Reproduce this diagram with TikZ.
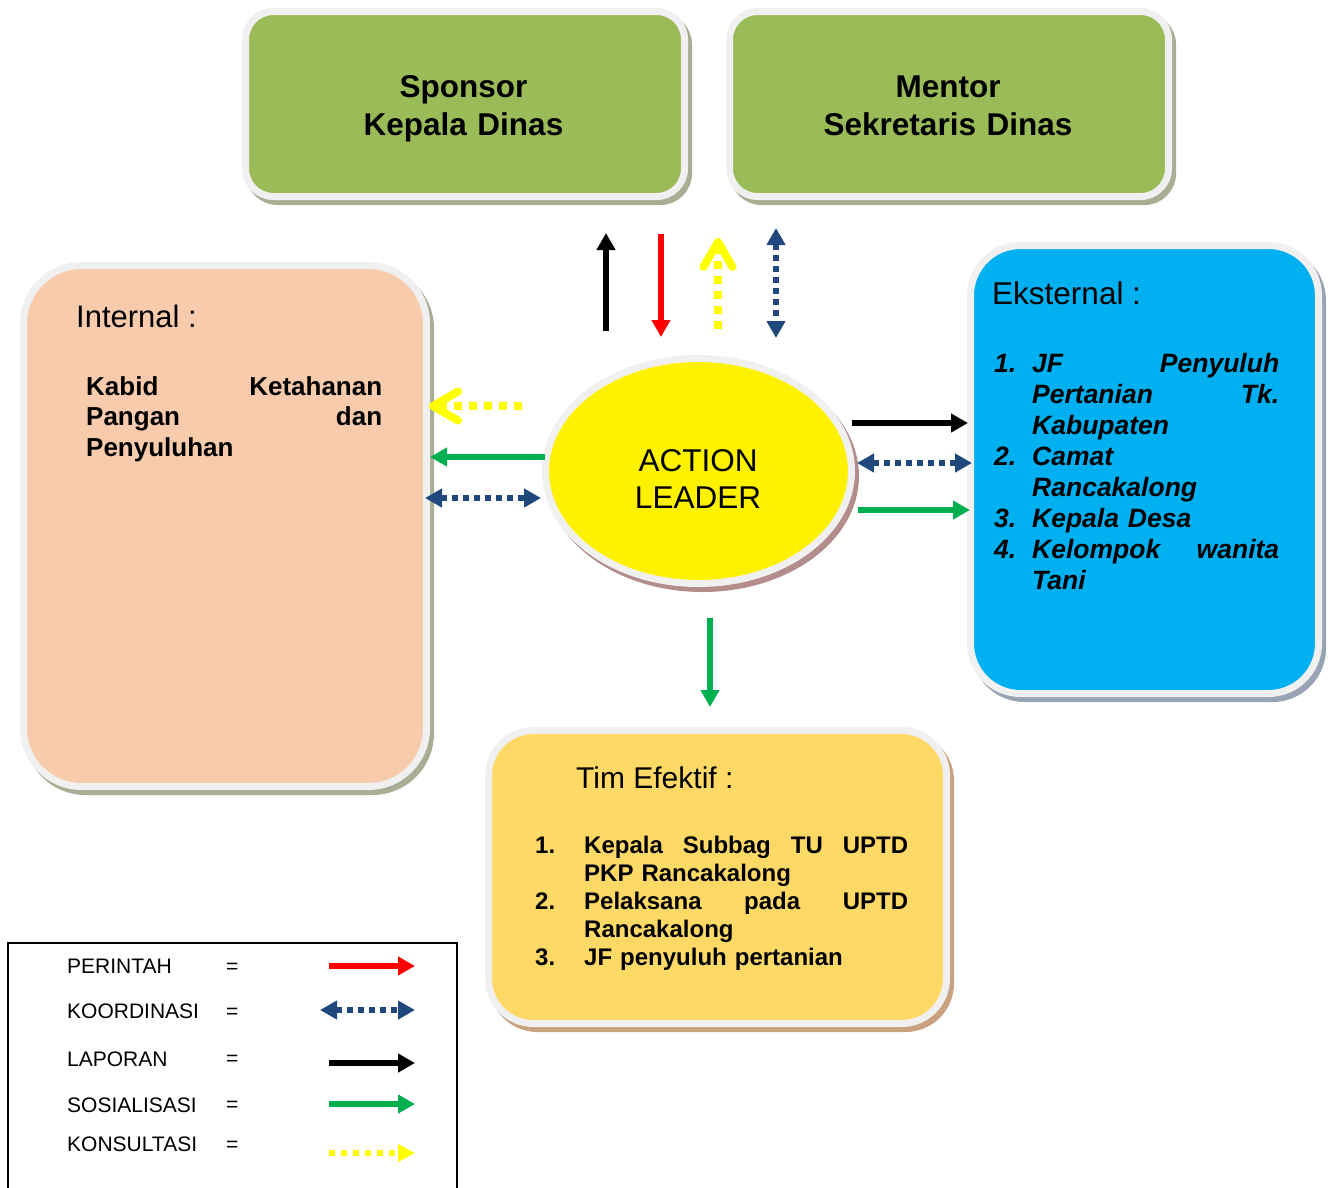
\documentclass[tikz,border=0pt]{standalone}
\usepackage{fontspec}
\setmainfont{Liberation Sans}
\usetikzlibrary{arrows.meta,shapes.geometric,shadows}
\definecolor{cGreenBox}{HTML}{9BBB59}
\definecolor{cPeach}{HTML}{F8CBAD}
\definecolor{cSky}{HTML}{00B0F0}
\definecolor{cGold}{HTML}{FFD966}
\definecolor{cRing}{HTML}{F0F0F0}
\definecolor{shGreen}{HTML}{A7AE93}
\definecolor{shBlue}{HTML}{98A4B5}
\definecolor{shRose}{HTML}{B38C8C}
\definecolor{shTan}{HTML}{C9A27F}
\definecolor{cArrRed}{HTML}{FF0000}
\definecolor{cArrBlue}{HTML}{1F497D}
\definecolor{cArrGreen}{HTML}{00B050}
\definecolor{cArrYellow}{HTML}{FFFF00}
\tikzset{
  ringbox/.style={rectangle, draw=cRing, line width=7pt, inner sep=0pt},
  shadowof/.style={drop shadow={shadow xshift=4pt, shadow yshift=-5pt, fill=#1, draw=#1, line width=7pt, opacity=1}},
  txt/.style={inner sep=0pt, text=black},
  perintah/.style={draw=cArrRed, line width=6.5pt, -{Triangle[length=17pt,width=18pt]}},
  laporan/.style={draw=black, line width=6.5pt, -{Triangle[length=17pt,width=18pt]}},
  sosial/.style={draw=cArrGreen, line width=6.5pt, -{Triangle[length=17pt,width=18pt]}},
  koord/.style={draw=cArrBlue, line width=5.5pt, dash pattern=on 6pt off 5pt, {Triangle[length=17pt,width=18pt]}-{Triangle[length=17pt,width=18pt]}},
  konsul/.style={draw=cArrYellow, line width=8pt, dash pattern=on 8pt off 7pt, -{Straight Barb[length=25pt,width=29pt,round]}},
  konsulkey/.style={draw=cArrYellow, line width=6pt, dash pattern=on 6pt off 6pt, -{Triangle[length=17pt,width=17pt]}},
  legendtxt/.style={txt, anchor=base west, font=\fontsize{21}{25}\selectfont}
}
\begin{document}
\begin{tikzpicture}[x=1pt,y=-1pt]
\useasboundingbox[fill=white] (0,0) rectangle (1332,1187);

% ---- boxes ----
\node[ringbox, fill=cGreenBox, rounded corners=28pt, minimum width=439pt, minimum height=185pt, shadowof=shGreen] (sponsor) at (465,104) {};
\node[ringbox, fill=cGreenBox, rounded corners=28pt, minimum width=439pt, minimum height=185pt, shadowof=shGreen] (mentor) at (949,104) {};
\node[ringbox, fill=cPeach, rounded corners=58pt, minimum width=403pt, minimum height=521pt, shadowof=shGreen] (internal) at (225,526) {};
\node[ringbox, fill=cSky, rounded corners=50pt, minimum width=348pt, minimum height=448pt, shadowof=shBlue] (eksternal) at (1144.5,469.5) {};
\node[ringbox, fill=cGold, rounded corners=45pt, minimum width=458pt, minimum height=293pt, shadowof=shTan] (tim) at (717.5,877) {};
\node[ellipse, draw=cRing, line width=7pt, fill=yellow, minimum width=306pt, minimum height=225pt, inner sep=0pt, shadowof=shRose] (leader) at (698.5,471) {};

% ---- texts ----
\node[txt, anchor=base, text width=420pt, align=center, font=\bfseries\fontsize{31.5}{38}\selectfont] (tSponsor) at (463.5,97) {Sponsor\\Kepala Dinas};
\node[txt, anchor=base, text width=420pt, align=center, font=\bfseries\fontsize{31.5}{38}\selectfont] (tMentor) at (948,97) {Mentor\\Sekretaris Dinas};
\node[txt, anchor=base, text width=220pt, align=center, font=\fontsize{31.5}{37}\selectfont] (tLeader) at (698,471) {ACTION\\LEADER};

\node[txt, anchor=base west, font=\fontsize{31}{36}\selectfont] (tInt) at (76,327) {Internal :};
\node[txt, anchor=base west, text width=300pt, font=\bfseries\fontsize{26}{30.5}\selectfont] (tKabid) at (86,395)
 {\hbox to 296pt{Kabid\hfill Ketahanan}\par
  \hbox to 296pt{Pangan\hfill dan}\par
  \hbox{Penyuluhan}\par};

\node[txt, anchor=base west, font=\fontsize{31.5}{36}\selectfont] (tEks) at (992,304) {Eksternal :};
\node[txt, anchor=base west, text width=300pt, font=\bfseries\itshape\fontsize{26.5}{31}\selectfont] (tEksList) at (994,372)
 {\hbox{\hbox to 38pt{1.\hfil}\hbox to 247pt{JF\hfill Penyuluh}}\par
  \hbox{\hbox to 38pt{}\hbox to 247pt{Pertanian\hfill Tk.}}\par
  \hbox{\hbox to 38pt{}Kabupaten}\par
  \hbox{\hbox to 38pt{2.\hfil}Camat}\par
  \hbox{\hbox to 38pt{}Rancakalong}\par
  \hbox{\hbox to 38pt{3.\hfil}Kepala Desa}\par
  \hbox{\hbox to 38pt{4.\hfil}\hbox to 247pt{Kelompok\hfill wanita}}\par
  \hbox{\hbox to 38pt{}Tani}\par};

\node[txt, anchor=base west, font=\fontsize{30}{35}\selectfont] (tTim) at (576,788) {Tim Efektif :};
\node[txt, anchor=base west, text width=380pt, font=\bfseries\fontsize{24}{28}\selectfont] (tTimList) at (535,853)
 {\hbox{\hbox to 49pt{1.\hfil}\hbox to 324pt{Kepala\hfill Subbag\hfill TU\hfill UPTD}}\par
  \hbox{\hbox to 49pt{}PKP Rancakalong}\par
  \hbox{\hbox to 49pt{2.\hfil}\hbox to 324pt{Pelaksana\hfill pada\hfill UPTD}}\par
  \hbox{\hbox to 49pt{}Rancakalong}\par
  \hbox{\hbox to 49pt{3.\hfil}JF penyuluh pertanian}\par};

% ---- arrow end points ----
\coordinate (upBlackA) at (606,331);   \coordinate (upBlackB) at (606,233);
\coordinate (upRedA) at (661,234);     \coordinate (upRedB) at (661,337);
\coordinate (upYelA) at (718,329);     \coordinate (upYelB) at (718,238);
\coordinate (upBlueA) at (776,228);    \coordinate (upBlueB) at (776,338);
\coordinate (lYelA) at (522,406);      \coordinate (lYelB) at (429,406);
\coordinate (lGrnA) at (545,457);      \coordinate (lGrnB) at (430,457);
\coordinate (lBlueA) at (425,498);     \coordinate (lBlueB) at (541,498);
\coordinate (rBlkA) at (852,423);      \coordinate (rBlkB) at (968,423);
\coordinate (rBlueA) at (857,463);     \coordinate (rBlueB) at (972,463);
\coordinate (rGrnA) at (858,510);      \coordinate (rGrnB) at (970,510);
\coordinate (dGrnA) at (710,618);      \coordinate (dGrnB) at (710,707);

\draw[laporan] (upBlackA) -- (upBlackB);
\draw[perintah] (upRedA) -- (upRedB);
\draw[konsul] (upYelA) -- (upYelB);
\draw[koord] (upBlueA) -- (upBlueB);
\draw[konsul] (lYelA) -- (lYelB);
\draw[sosial] (lGrnA) -- (lGrnB);
\draw[koord] (lBlueA) -- (lBlueB);
\draw[laporan] (rBlkA) -- (rBlkB);
\draw[koord] (rBlueA) -- (rBlueB);
\draw[sosial] (rGrnA) -- (rGrnB);
\draw[sosial] (dGrnA) -- (dGrnB);

% ---- legend ----
\draw[line width=1.5pt] (8,1195) -- (8,943) -- (457,943) -- (457,1195);
\node[legendtxt] (lgP) at (67,973) {PERINTAH};
\node[legendtxt] (lgK) at (67,1018) {KOORDINASI};
\node[legendtxt] (lgL) at (67,1066) {LAPORAN};
\node[legendtxt] (lgS) at (67,1112) {SOSIALISASI};
\node[legendtxt] (lgKo) at (67,1151) {KONSULTASI};
\node[legendtxt] (eqP) at (226,973) {=};
\node[legendtxt] (eqK) at (226,1018) {=};
\node[legendtxt] (eqL) at (226,1065) {=};
\node[legendtxt] (eqS) at (226,1111) {=};
\node[legendtxt] (eqKo) at (226,1151) {=};
\coordinate (kPa) at (329,966);  \coordinate (kPb) at (415,966);
\coordinate (kKa) at (320,1010); \coordinate (kKb) at (415,1010);
\coordinate (kLa) at (329,1063); \coordinate (kLb) at (415,1063);
\coordinate (kSa) at (329,1104); \coordinate (kSb) at (415,1104);
\coordinate (kKoa) at (329,1153); \coordinate (kKob) at (415,1153);
\draw[perintah] (kPa) -- (kPb);
\draw[koord] (kKa) -- (kKb);
\draw[laporan] (kLa) -- (kLb);
\draw[sosial] (kSa) -- (kSb);
\draw[konsulkey] (kKoa) -- (kKob);
\end{tikzpicture}
\end{document}
